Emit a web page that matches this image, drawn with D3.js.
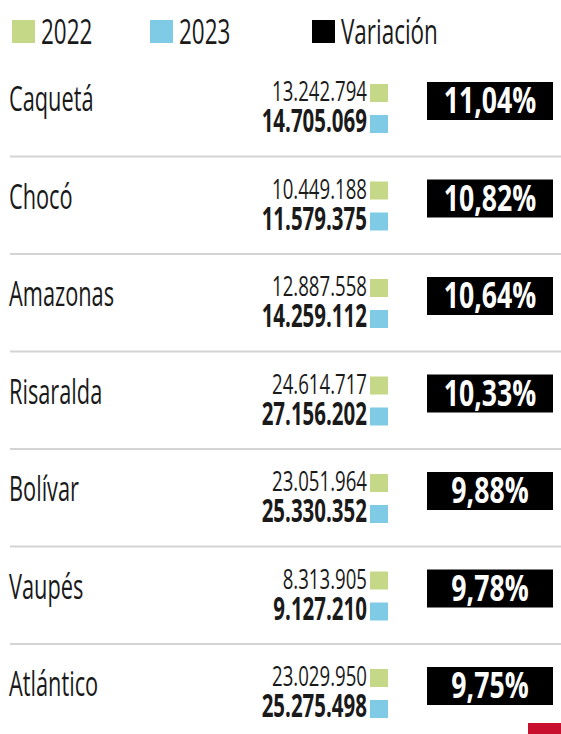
<!DOCTYPE html>
<html>
<head>
<meta charset="utf-8">
<script src="https://cdn.jsdelivr.net/npm/d3@7"></script>
<style>
  body { margin: 0; background: #fff; }
  svg { display: block; }
  text { font-family: "Open Sans", "Noto Sans", sans-serif; }
</style>
</head>
<body>
<script>
// Datos
var departamentos = ["Caquetá", "Chocó", "Amazonas", "Risaralda", "Bolívar", "Vaupés", "Atlántico"];
var valores2022 = [13242794, 10449188, 12887558, 24614717, 23051964, 8313905, 23029950];
var valores2023 = [14705069, 11579375, 14259112, 27156202, 25330352, 9127210, 25275498];
var variacion = [11.04, 10.82, 10.64, 10.33, 9.88, 9.78, 9.75];
var leyenda = ["2022", "2023", "Variación"];

var width = 561, height = 734;
var verde = "#c5d888", azul = "#7fcbe6", negro = "#000";

// formato con punto de miles y coma decimal
var locale = d3.formatLocale({ decimal: ",", thousands: ".", grouping: [3], currency: ["$", ""] });
var fmtNum = locale.format(",d");
var fmtPct = locale.format(".2f");

var svg = d3.select("body").append("svg").attr("width", width).attr("height", height);

// texto condensado: escala horizontal sobre el punto de anclaje
function texto(g, x, y, s, size, sx, opts) {
    opts = opts || {};
    return g.append("text")
        .attr("transform", "translate(" + x + "," + y + ") scale(" + sx + ",1)")
        .attr("text-anchor", opts.anchor || "start")
        .attr("font-size", size)
        .attr("font-weight", opts.weight || 400)
        .attr("fill", opts.fill || "#1a1a1a")
        .text(s);
}

// Leyenda
var colLeyenda = d3.scaleOrdinal().domain(leyenda).range([verde, azul, negro]);
var xLeyenda = d3.scaleOrdinal().domain(leyenda).range([12, 150, 312]);
leyenda.forEach(function (d) {
    var x = xLeyenda(d);
    svg.append("rect").attr("x", x).attr("y", 20).attr("width", 23).attr("height", 23).attr("fill", colLeyenda(d));
    texto(svg, x + 29, 44, d, 34, 0.66);
});

// Filas
var yScale = d3.scaleBand().domain(departamentos).range([59, 59 + 97.5 * departamentos.length]);

var filas = svg.selectAll("g.fila").data(departamentos).enter()
    .append("g").attr("class", "fila")
    .attr("transform", function (d) { return "translate(0," + yScale(d) + ")"; });

filas.each(function (d, i) {
    var g = d3.select(this);
    texto(g, 9, 52, d, 34, 0.64);

    texto(g, 367, 42, fmtNum(valores2022[i]), 27, 0.69, { anchor: "end" });
    texto(g, 367, 73, fmtNum(valores2023[i]), 32, 0.64, { anchor: "end", weight: 700 });
    g.append("rect").attr("x", 370).attr("y", 25).attr("width", 18).attr("height", 18).attr("fill", verde);
    g.append("rect").attr("x", 370).attr("y", 56).attr("width", 18).attr("height", 18).attr("fill", azul);

    g.append("rect").attr("x", 427).attr("y", 23).attr("width", 126).attr("height", 38).attr("fill", negro);
    texto(g, 490, 54, fmtPct(variacion[i]) + "%", 36, 0.74, { anchor: "middle", weight: 700, fill: "#fff" });

    if (i < departamentos.length - 1) {
        g.append("line").attr("x1", 10).attr("x2", width).attr("y1", 97.5).attr("y2", 97.5)
            .attr("stroke", "#d4d4d4").attr("stroke-width", 2);
    }
});

// marca roja en la esquina
svg.append("rect").attr("x", 528).attr("y", 723).attr("width", 33).attr("height", 11).attr("fill", "#c8102e");
</script>
</body>
</html>
